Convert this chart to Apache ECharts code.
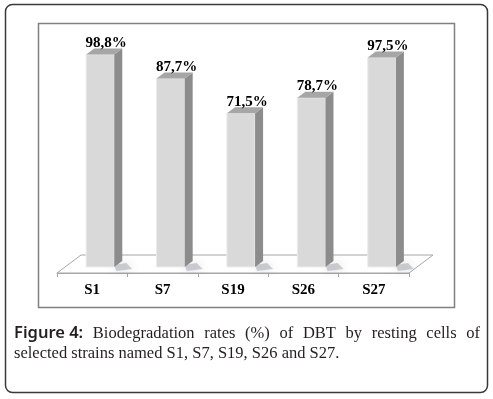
<!DOCTYPE html>
<html>
<head>
<meta charset="utf-8">
<script src="https://cdn.jsdelivr.net/npm/echarts@6/dist/echarts.min.js"></script>
<style>
  html, body { margin: 0; padding: 0; background: #fff; }
  #chart { width: 493px; height: 399px; }
</style>
</head>
<body>
<div id="chart"></div>
<script>
// data
const categories = ['S1', 'S7', 'S19', 'S26', 'S27']
const rates = [98.8, 87.7, 71.5, 78.7, 97.5]
const captionLine1 = ['Figure 4:', 'Biodegradation', 'rates', '(%)', 'of', 'DBT', 'by', 'resting', 'cells', 'of']
const captionLine2 = 'selected strains named S1, S7, S19, S26 and S27.'

const chart = echarts.init(document.getElementById('chart'))

// 3d look
const depthX = 24
const depthY = 18

const renderFloor = (params, api) => {
  const cs = params.coordSys
  const yb = cs.y + cs.height
  return {
    type: 'polygon',
    shape: {
      points: [
        [cs.x, yb], [cs.x + depthX, yb - depthY],
        [cs.x + cs.width + depthX, yb - depthY], [cs.x + cs.width, yb]
      ]
    },
    style: { fill: '#fff', stroke: '#a6a6a6', lineWidth: 1 },
    silent: true
  }
}

const renderBar = (params, api) => {
  const idx = api.value(0)
  const val = api.value(1)
  const base = api.coord([idx, 0])
  const top = api.coord([idx, val])
  const band = api.size([1, 0])[0]
  const w = band * 0.4
  const dx = depthX / 3
  const dy = depthY / 3
  const x0 = base[0] - w / 2 + dx
  const yBot = base[1] - dy
  const yTop = top[1] - dy
  const label = val.toFixed(1).replace('.', ',') + '%'
  return {
    type: 'group',
    children: [
      {
        type: 'polygon',
        shape: { points: [[x0 + w, yBot - 2], [x0 + w + dx + 4, yBot - 4], [x0 + w + dx + 10, yBot + 2], [x0 + w + 2, yBot + 4]] },
        style: { fill: 'rgba(150,155,165,0.45)', shadowBlur: 8, shadowColor: 'rgba(120,125,135,0.6)' }
      },
      {
        type: 'rect',
        shape: { x: x0, y: yTop, width: w, height: yBot - yTop },
        style: { fill: '#d9d9d9', stroke: '#ececec', lineWidth: 1 }
      },
      {
        type: 'polygon',
        shape: { points: [[x0 + w, yTop], [x0 + w + dx, yTop - dy], [x0 + w + dx, yBot - dy], [x0 + w, yBot]] },
        style: { fill: '#8c8c8c' }
      },
      {
        type: 'polygon',
        shape: { points: [[x0, yTop], [x0 + dx, yTop - dy], [x0 + w + dx, yTop - dy], [x0 + w, yTop]] },
        style: { fill: '#a6a6a6' }
      },
      {
        type: 'text',
        style: {
          x: x0 + w / 2 + dx / 2 + 2, y: yTop - dy + 2,
          text: label, align: 'center', verticalAlign: 'bottom',
          fontFamily: 'Liberation Serif', fontWeight: 'bold', fontSize: 15, fill: '#000'
        }
      }
    ]
  }
}

// caption, first line justified
const measure = document.createElement('canvas').getContext('2d')
const capSize = 16.5
const capFont = capSize + 'px "Liberation Serif"'
const figFont = '600 ' + capSize + 'px "Noto Sans"'
const capLeft = 14
const capRight = 480
const widths = captionLine1.map((wd, i) => {
  measure.font = i === 0 ? figFont : capFont
  return measure.measureText(wd).width
})
const gap = (capRight - capLeft - widths.reduce((a, b) => a + b, 0)) / (captionLine1.length - 1)
const captionTexts = []
let cx = capLeft
captionLine1.forEach((wd, i) => {
  captionTexts.push({
    type: 'text', left: cx, top: 325,
    style: i === 0
      ? { text: wd, fontFamily: 'Noto Sans', fontWeight: 600, fontSize: capSize, fill: '#231f20' }
      : { text: wd, fontFamily: 'Liberation Serif', fontSize: capSize, fill: '#231f20' }
  })
  cx += widths[i] + gap
})
captionTexts.push({
  type: 'text', left: capLeft, top: 345,
  style: { text: captionLine2, fontFamily: 'Liberation Serif', fontSize: capSize, fill: '#231f20' }
})

const option = {
  animation: false,
  grid: { left: 57, right: 84, top: 58, bottom: 126 },
  xAxis: {
    type: 'category',
    data: categories,
    axisLine: { lineStyle: { color: '#a6a6a6', width: 1 } },
    axisTick: { show: true, length: 4, lineStyle: { color: '#a6a6a6' } },
    axisLabel: { margin: 10, color: '#000', fontFamily: 'Liberation Serif', fontWeight: 'bold', fontSize: 15 },
    z: 1
  },
  yAxis: {
    type: 'value', min: 0, max: 100, show: false, splitLine: { show: false }
  },
  graphic: [
    {
      type: 'rect', shape: { x: 5.5, y: 4.5, width: 482, height: 388, r: 7 },
      style: { fill: null, stroke: '#3a3a3a', lineWidth: 1.5 }, silent: true
    },
    {
      type: 'rect', shape: { x: 38.5, y: 23.5, width: 416, height: 284 },
      style: { fill: null, stroke: '#808080', lineWidth: 1.5 }, silent: true
    },
    ...captionTexts
  ],
  series: [
    { type: 'custom', renderItem: renderFloor, data: [[0, 0]], z: 0, silent: true },
    { type: 'custom', renderItem: renderBar, data: rates.map((v, i) => [i, v]), z: 2 }
  ]
}
chart.setOption(option)
</script>
</body>
</html>
